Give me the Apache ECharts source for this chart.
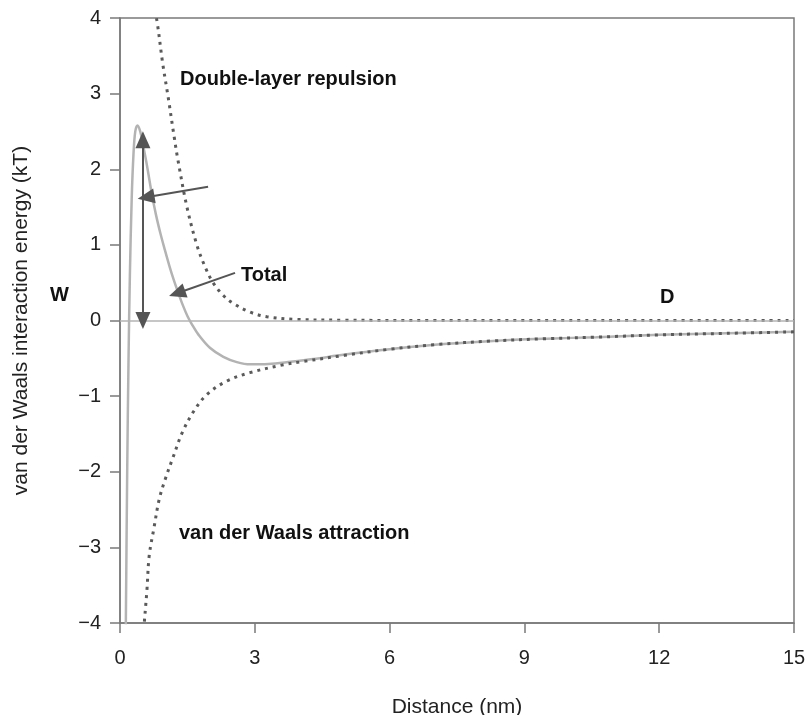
<!DOCTYPE html>
<html>
<head>
<meta charset="utf-8">
<script src="https://cdn.jsdelivr.net/npm/echarts@6/dist/echarts.min.js"></script>
<style>
html,body{margin:0;padding:0;background:#fff;}
#chart{width:808px;height:715px;}
</style>
</head>
<body>
<div id="chart"></div>
<script>
// Distance values (nm) and energies (kT)
const totalD = [0.12, 0.13, 0.16, 0.19, 0.22, 0.26, 0.3, 0.34, 0.39, 0.45, 0.52, 0.6, 0.7, 0.8, 0.9, 1.0, 1.1, 1.2, 1.3, 1.4, 1.5, 1.6, 1.75, 2.0, 2.3, 2.6, 2.9, 3.3, 3.8, 4.3, 5.0, 6.0, 7.0, 8.3, 9.5, 10.6, 12, 13.5, 15];
const totalW = [-4.6, -4.0, -2.0, -0.5, 0.6, 1.6, 2.2, 2.5, 2.58, 2.5, 2.3, 2.05, 1.7, 1.4, 1.15, 0.93, 0.72, 0.53, 0.36, 0.2, 0.06, -0.05, -0.19, -0.36, -0.48, -0.55, -0.58, -0.575, -0.545, -0.51, -0.45, -0.38, -0.32, -0.27, -0.24, -0.22, -0.19, -0.17, -0.15];

const repD = [0.76, 0.82, 0.95, 1.07, 1.2, 1.29, 1.49, 1.71, 1.9, 2.07, 2.3, 2.51, 2.9, 3.27, 3.9, 5, 7, 10, 15];
const repW = [4.1, 3.97, 3.4, 2.96, 2.45, 2.12, 1.5, 1.0, 0.7, 0.5, 0.33, 0.23, 0.11, 0.05, 0.015, 0.004, 0, 0, 0];

const vdwD = [0.5, 0.53, 0.6, 0.65, 0.76, 0.87, 1.0, 1.18, 1.38, 1.63, 1.93, 2.38, 2.89, 3.6, 4.05, 5.0, 6.0, 7.0, 8.3, 9.5, 10.6, 12.0, 13.5, 15.0];
const vdwW = [-4.3, -4.07, -3.56, -3.11, -2.73, -2.37, -2.11, -1.81, -1.49, -1.21, -0.98, -0.8, -0.69, -0.59, -0.545, -0.46, -0.38, -0.32, -0.27, -0.24, -0.22, -0.19, -0.17, -0.15];

// Arrow annotations (data coordinates: [D, W])
const barrierArrow = [[0.51, 0], [0.51, 2.39]];
const repArrow = [[1.96, 1.77], [0.58, 1.63]];
const totalArrow = [[2.56, 0.63], [1.27, 0.36]];

const xTicks = [0, 3, 6, 9, 12, 15];
const yTicks = [-4, -3, -2, -1, 0, 1, 2, 3, 4];

const FONT = "'Liberation Sans', Arial, Helvetica, sans-serif";
const zip = (a, b) => a.map((v, i) => [v, b[i]]);

const chart = echarts.init(document.getElementById('chart'), null, {renderer: 'canvas'});

const arrowLine = (pts, syms) => [{coord: pts[0], symbol: syms[0]}, {coord: pts[1], symbol: syms[1]}];

chart.setOption({
  animation: false,
  backgroundColor: '#fff',
  grid: {left: 120, right: 14, top: 18, bottom: 92, containLabel: false, outerBoundsMode: 'none',
    show: true, borderColor: '#7a7a7a', borderWidth: 1.5},
  xAxis: {
    type: 'value', min: xTicks[0], max: xTicks[xTicks.length - 1], interval: 3,
    name: 'Distance (nm)', nameLocation: 'middle', nameGap: 74,
    nameTextStyle: {fontFamily: FONT, fontSize: 21, color: '#222'},
    axisLine: {show: true, onZero: false, lineStyle: {color: '#7a7a7a', width: 1.5}},
    axisTick: {show: true, length: 10, lineStyle: {color: '#7a7a7a', width: 1.5}},
    axisLabel: {fontFamily: FONT, fontSize: 20, color: '#222', margin: 25},
    splitLine: {show: false}
  },
  yAxis: {
    type: 'value', min: yTicks[0], max: yTicks[yTicks.length - 1], interval: 1,
    name: 'van der Waals interaction energy (kT)', nameLocation: 'middle', nameGap: 88,
    nameTextStyle: {fontFamily: FONT, fontSize: 21, color: '#222'},
    axisLine: {show: true, onZero: false, lineStyle: {color: '#7a7a7a', width: 1.5}},
    axisTick: {show: true, length: 10, lineStyle: {color: '#7a7a7a', width: 1.5}},
    axisLabel: {fontFamily: FONT, fontSize: 20, color: '#222', margin: 19,
      formatter: v => (v < 0 ? '\u2212' + Math.abs(v) : String(v))},
    splitLine: {show: false}
  },
  series: [
    {
      name: 'Total', type: 'line', data: zip(totalD, totalW), showSymbol: false,
      smooth: 0.35, clip: true, z: 3,
      lineStyle: {color: '#b3b3b3', width: 2.5},
      markLine: {
        silent: true, symbol: ['none', 'none'], animation: false,
        label: {show: false},
        lineStyle: {color: '#b3b3b3', width: 1.5, type: 'solid'},
        data: [{yAxis: 0}]
      }
    },
    {
      name: 'Double-layer repulsion', type: 'line', data: zip(repD, repW), showSymbol: false,
      smooth: 0.35, clip: true, z: 4,
      lineStyle: {color: '#5a5a5a', width: 3, type: [3, 5]}
    },
    {
      name: 'van der Waals attraction', type: 'line', data: zip(vdwD, vdwW), showSymbol: false,
      smooth: 0.35, clip: true, z: 4,
      lineStyle: {color: '#5a5a5a', width: 3, type: [3, 5]},
      markLine: {
        silent: true, animation: false, label: {show: false},
        symbolSize: [15, 17], symbolOffset: 0,
        lineStyle: {color: '#555', width: 2, type: 'solid'},
        data: [
          arrowLine(barrierArrow, ['triangle', 'triangle']),
          arrowLine(repArrow, ['none', 'triangle']),
          arrowLine(totalArrow, ['none', 'triangle'])
        ]
      }
    }
  ],
  graphic: [
    {type: 'text', left: 180, top: 69, style: {text: 'Double-layer repulsion', font: 'bold 20px ' + FONT, fill: '#111'}},
    {type: 'text', left: 241, top: 265, style: {text: 'Total', font: 'bold 20px ' + FONT, fill: '#111'}},
    {type: 'text', left: 50, top: 285, style: {text: 'W', font: 'bold 20px ' + FONT, fill: '#111'}},
    {type: 'text', left: 660, top: 287, style: {text: 'D', font: 'bold 20px ' + FONT, fill: '#111'}},
    {type: 'text', left: 179, top: 523, style: {text: 'van der Waals attraction', font: 'bold 20px ' + FONT, fill: '#111'}}
  ]
});
</script>
</body>
</html>
